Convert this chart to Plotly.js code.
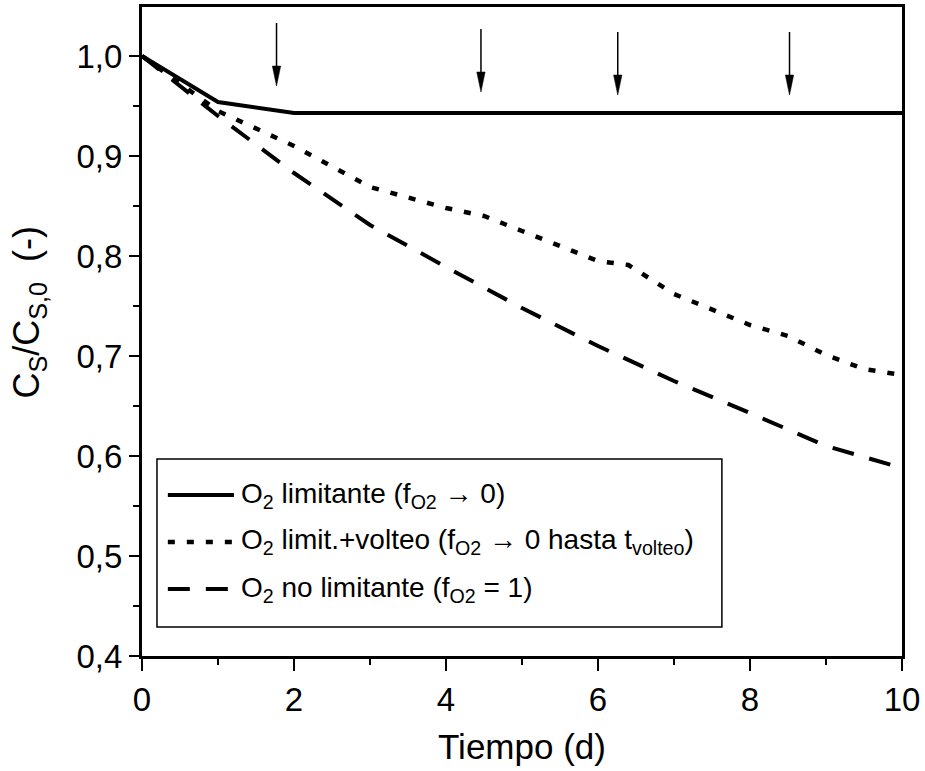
<!DOCTYPE html>
<html>
<head>
<meta charset="utf-8">
<script src="https://cdn.plot.ly/plotly-3.0.1.min.js"></script>
<style>html,body{margin:0;padding:0;background:#fff;}#chart{width:925px;height:771px;}</style>
</head>
<body>
<div id="chart"></div>
<script>
// ---- data ----
const tLimitante = [0, 1, 2, 3, 4, 5, 6, 7, 8, 9, 10];
const cLimitante = [1.000, 0.954, 0.943, 0.943, 0.943, 0.943, 0.943, 0.943, 0.943, 0.943, 0.943];

const tVolteo = [0, 1, 2, 3, 4, 4.5, 5, 6, 6.4, 7, 8, 8.5, 9, 9.5, 10];
const cVolteo = [1.000, 0.945, 0.910, 0.869, 0.848, 0.840, 0.825, 0.795, 0.791, 0.762, 0.731, 0.720, 0.701, 0.687, 0.681];

const tNoLim = [0, 1, 2, 3, 4, 5, 6, 7, 8, 9, 10];
const cNoLim = [1.000, 0.940, 0.883, 0.831, 0.789, 0.748, 0.710, 0.675, 0.643, 0.610, 0.588];

// volteo (turning) events marked with arrows
const arrowX = [1.77, 4.46, 6.26, 8.52];
const arrowTop = [1.033, 1.027, 1.024, 1.024];
const arrowTip = [0.970, 0.964, 0.961, 0.961];

const seriesNames = [
  'O<sub>2</sub> limitante (f<sub>O2</sub> \u2192 0)',
  'O<sub>2</sub> limit.+volteo (f<sub>O2</sub> \u2192 0 hasta t<sub>volteo</sub>)',
  'O<sub>2</sub> no limitante (f<sub>O2</sub> = 1)'
];
const seriesDash = ['solid', '7px,12px', '22px,16px'];

const xTitle = 'Tiempo (d)';
const yTitle = 'C<sub>S</sub>/C<sub>S,0</sub>  (-)';

// ---- traces ----
const font = 'Arial, "Liberation Sans", sans-serif';

const traces = [
  {x: tLimitante, y: cLimitante, mode: 'lines', name: seriesNames[0], line: {color: '#000', width: 4, dash: seriesDash[0]}},
  {x: tVolteo, y: cVolteo, mode: 'lines', name: seriesNames[1], line: {color: '#000', width: 4.5, dash: seriesDash[1]}},
  {x: tNoLim, y: cNoLim, mode: 'lines', name: seriesNames[2], line: {color: '#000', width: 4, dash: seriesDash[2]}}
];

// ---- arrows ----
const shapes = [];
const hw = 0.055, hl = 0.02;
arrowX.forEach((x, i) => {
  shapes.push({type: 'line', xref: 'x', yref: 'y', x0: x, x1: x, y0: arrowTop[i], y1: arrowTip[i] + hl * 0.5,
    line: {color: '#000', width: 1.5}});
  shapes.push({type: 'path', xref: 'x', yref: 'y',
    path: `M${x - hw},${arrowTip[i] + hl} L${x + hw},${arrowTip[i] + hl} L${x},${arrowTip[i]} Z`,
    fillcolor: '#000', line: {color: '#000', width: 0.5}});
});

// ---- custom legend box ----
const legBox = {x0: 0.0197, x1: 0.763, y0: 0.0447, y1: 0.3035};
const legRowY = [0.248, 0.1757, 0.1032];
const legLineX = [0.034, 0.121];
const legTextX = 0.128;
shapes.push({type: 'rect', xref: 'paper', yref: 'paper', x0: legBox.x0, x1: legBox.x1, y0: legBox.y0, y1: legBox.y1,
  line: {color: '#000', width: 1.5}, fillcolor: 'rgba(0,0,0,0)'});
const annotations = [];
seriesNames.forEach((n, i) => {
  shapes.push({type: 'line', xref: 'paper', yref: 'paper', x0: legLineX[0], x1: legLineX[1], y0: legRowY[i], y1: legRowY[i],
    line: {color: '#000', width: i === 1 ? 4.5 : 4, dash: seriesDash[i]}});
  annotations.push({xref: 'paper', yref: 'paper', x: legTextX, y: legRowY[i], xanchor: 'left', yanchor: 'middle',
    text: n, showarrow: false, font: {family: font, size: 28, color: '#000'}});
});

// y-axis title as rotated annotation
annotations.push({xref: 'paper', yref: 'paper', x: -0.148, y: 0.53, xanchor: 'center', yanchor: 'middle',
  textangle: -90, text: yTitle, showarrow: false, font: {family: font, size: 36, color: '#000'}});

const layout = {
  width: 925, height: 771,
  margin: {l: 142, r: 23, t: 7, b: 115},
  paper_bgcolor: '#fff', plot_bgcolor: '#fff',
  separators: ',.',
  showlegend: false,
  font: {family: font, color: '#000'},
  xaxis: {
    range: [0, 10], dtick: 2, tick0: 0,
    showgrid: false, zeroline: false,
    showline: true, linecolor: '#000', linewidth: 3, mirror: true,
    ticks: 'outside', ticklen: 12, tickwidth: 2.5, tickcolor: '#000',
    minor: {dtick: 1, tick0: 0, ticks: 'outside', ticklen: 6, tickwidth: 2.5, tickcolor: '#000'},
    tickfont: {family: font, size: 33, color: '#000'},
    title: {text: xTitle, font: {family: font, size: 35, color: '#000'}, standoff: 18}
  },
  yaxis: {
    range: [0.4, 1.049], dtick: 0.1, tick0: 0.4, tickformat: '.1f',
    showgrid: false, zeroline: false,
    showline: true, linecolor: '#000', linewidth: 3, mirror: true,
    ticks: 'outside', ticklen: 10, tickwidth: 2.5, tickcolor: '#000',
    minor: {dtick: 0.05, tick0: 0.4, ticks: 'outside', ticklen: 6, tickwidth: 2.5, tickcolor: '#000'},
    tickfont: {family: font, size: 33, color: '#000'}
  },
  shapes: shapes,
  annotations: annotations
};

Plotly.newPlot('chart', traces, layout, {staticPlot: true, displayModeBar: false});
</script>
</body>
</html>
